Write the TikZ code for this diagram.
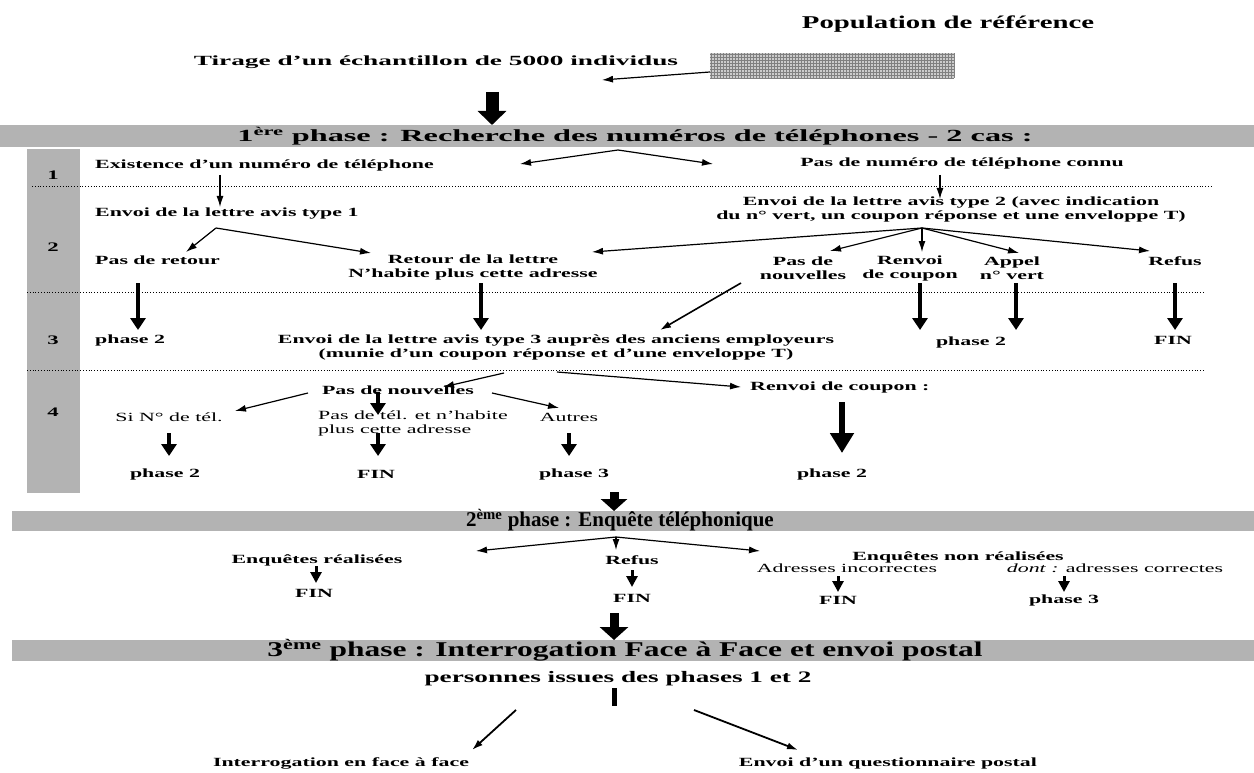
\documentclass[tikz,border=0pt]{standalone}
\usepackage{fontspec}
\setmainfont{Liberation Serif}
\newfontfamily\Wbody[FakeStretch=1.75]{Liberation Serif}
\newfontfamily\Wtitle[FakeStretch=1.95]{Liberation Serif}
\newfontfamily\Wpop[FakeStretch=1.6]{Liberation Serif}
\newfontfamily\Wpers[FakeStretch=1.7]{Liberation Serif}
\newfontfamily\Wbanda[FakeStretch=1.9]{Liberation Serif}
\newfontfamily\Wbandb[FakeStretch=1.0]{Liberation Serif}
\newfontfamily\Wbandc[FakeStretch=1.5]{Liberation Serif}
\usetikzlibrary{arrows.meta}
\definecolor{bandgray}{RGB}{179,179,179}
\begin{document}
\begin{tikzpicture}[x=1pt,y=-1pt,
  txt/.style={inner sep=0pt, font=\Wbody\bfseries\fontsize{12.5}{14}\selectfont},
  txtc/.style={txt, align=center},
  txtr/.style={inner sep=0pt, font=\Wbody\fontsize{12.5}{14}\selectfont},
  band/.style={fill=bandgray, draw=none},
  thinarr/.style={line width=1.2pt, -{Latex[length=11pt,width=7pt]}},
  thickarr/.style={line width=4pt, -{Triangle[length=12pt,width=15pt]}},
  midarr/.style={line width=3pt, -{Triangle[length=11pt,width=11pt]}},
  bigarr/.style={line width=13pt, -{Triangle[length=14pt,width=28pt]}},
  renarr/.style={line width=6pt, -{Triangle[length=20pt,width=23pt]}},
  sep/.style={dotted, line width=0.8pt}
]
\useasboundingbox (0,0) rectangle (1254,773);

% ---------- top ----------
\node[inner sep=0pt, font=\Wpop\bfseries\fontsize{18}{18}\selectfont] (pop) at (948,24) {Population de référence};
\node[inner sep=0pt, font=\Wtitle\bfseries\fontsize{14}{14}\selectfont] (tir) at (436,62) {Tirage d’un échantillon de 5000 individus};
\fill[gray!40] (710,53) rectangle (954,78);
\draw[step=3pt, gray, line width=0.8pt] (710,53) grid (954,78);
\coordinate (boxw) at (710,72);
\coordinate (boxa) at (602,80);
\draw[thinarr] (boxw) -- (boxa);
\coordinate (b0s) at (492,92);
\coordinate (b0e) at (492,125);
\draw[bigarr] (b0s) -- (b0e);

% ---------- phase 1 band ----------
\fill[band] (0,125) rectangle (1254,147);
\node[inner sep=0pt, font=\Wbanda\bfseries\fontsize{17}{17}\selectfont] (ph1) at (635,136) {1\textsuperscript{ère} phase : Recherche des numéros de téléphones - 2 cas :};

\fill[bandgray] (27,149) rectangle (80,493);
\draw[sep] (32,186) -- (1213,186);
\draw[sep] (27,292) -- (1205,292);
\draw[sep] (27,370) -- (1205,370);

\node[txt, font=\Wbody\bfseries\fontsize{13}{14}\selectfont] (n1) at (53,175) {1};
\node[txt, font=\Wbody\bfseries\fontsize{13}{14}\selectfont] (n2) at (53,247) {2};
\node[txt, font=\Wbody\bfseries\fontsize{13}{14}\selectfont] (n3) at (53,340) {3};
\node[txt, font=\Wbody\bfseries\fontsize{13}{14}\selectfont] (n4) at (53,412) {4};

% row 1
\node[txt, anchor=west] (exist) at (95,165) {Existence d’un numéro de téléphone};
\node[txt] (pasnum) at (962,163) {Pas de numéro de téléphone connu};
\coordinate (a1) at (618,150);
\coordinate (a1l) at (520,164);
\coordinate (a1r) at (713,164);
\draw[thinarr] (a1) -- (a1l);
\draw[thinarr] (a1) -- (a1r);
\coordinate (d1s) at (220,175); \coordinate (d1e) at (220,207);
\draw[thinarr] (d1s) -- (d1e);
\coordinate (d2s) at (940,175); \coordinate (d2e) at (940,199);
\draw[thinarr] (d2s) -- (d2e);

% row 2
\node[txt, anchor=west] (env1) at (95,214) {Envoi de la lettre avis type 1};
\node[txtc] (env2) at (951,209.5) {Envoi de la lettre avis type 2 (avec indication\\du n° vert, un coupon réponse et une enveloppe T)};
\coordinate (a2) at (216,228);
\coordinate (a2l) at (186,252);
\coordinate (a2r) at (371,253);
\draw[thinarr] (a2) -- (a2l);
\draw[thinarr] (a2) -- (a2r);
\node[txt, anchor=west] (pasret) at (95,260) {Pas de retour};
\node[txtc] (retour) at (473,267) {Retour de la lettre\\N’habite plus cette adresse};
\coordinate (a3) at (922,228);
\coordinate (a3a) at (592,252);
\coordinate (a3b) at (830,251);
\coordinate (a3c) at (922,252);
\coordinate (a3d) at (1019,253);
\coordinate (a3e) at (1150,251);
\foreach \t in {a3a,a3b,a3c,a3d,a3e} \draw[thinarr] (a3) -- (\t);
\node[txtc] (pasnv) at (803,268.5) {Pas de\\nouvelles};
\node[txtc] (renv) at (910,268.5) {Renvoi\\de coupon};
\node[txtc] (appel) at (1012,268.5) {Appel\\n° vert};
\node[txt] (refus) at (1175,261) {Refus};

% row 3
\foreach \x/\n in {138/r3a,481/r3b,920/r3c,1016/r3d,1175/r3e}{
  \coordinate (\n s) at (\x,283); \coordinate (\n e) at (\x,330);
  \draw[thickarr] (\n s) -- (\n e);
}
\coordinate (dgs) at (741,283); \coordinate (dge) at (660,330);
\draw[thinarr, line width=1.6pt] (dgs) -- (dge);
\node[txt, anchor=west] (ph2a) at (95,340) {phase 2};
\node[txtc] (env3) at (556,347) {Envoi de la lettre avis type 3 auprès des anciens employeurs\\(munie d’un coupon réponse et d’une enveloppe T)};
\node[txt] (ph2b) at (971,342) {phase 2};
\node[txt] (fin1) at (1173,340) {FIN};

% row 4
\coordinate (e3l) at (504,373); \coordinate (e3le) at (443,387);
\coordinate (e3r) at (557,372); \coordinate (e3re) at (741,387);
\draw[thinarr] (e3l) -- (e3le);
\draw[thinarr] (e3r) -- (e3re);
\node[txt] (pasnv2) at (398,390) {Pas de nouvelles};
\node[txt, anchor=west] (rencoup) at (750,387) {Renvoi de coupon :};
\coordinate (p4l) at (308,393); \coordinate (p4le) at (235,411);
\coordinate (p4m) at (378,392); \coordinate (p4me) at (378,415);
\coordinate (p4r) at (492,393); \coordinate (p4re) at (559,408);
\draw[thinarr] (p4l) -- (p4le);
\draw[thickarr] (p4m) -- (p4me);
\draw[thinarr] (p4r) -- (p4re);
\node[txtr] (sitel) at (169,417) {Si N° de tél.};
\node[txtr, anchor=north west, align=left] (pastel) at (318,411) {Pas de tél. et n’habite\\plus cette adresse};
\node[txtr] (autres) at (569,417) {Autres};
\foreach \x/\n in {169/q1,378/q2,569/q3}{
  \coordinate (\n s) at (\x,433); \coordinate (\n e) at (\x,456);
  \draw[thickarr] (\n s) -- (\n e);
}
\coordinate (rcs) at (842,402); \coordinate (rce) at (842,453);
\draw[renarr] (rcs) -- (rce);
\node[txt] (ph2c) at (165,474) {phase 2};
\node[txt] (fin2) at (376,474) {FIN};
\node[txt] (ph3a) at (574,474) {phase 3};
\node[txt] (ph2d) at (832,474) {phase 2};

% ---------- phase 2 ----------
\coordinate (b2s) at (614,492); \coordinate (b2e) at (614,511);
\draw[line width=9pt, -{Triangle[length=12pt,width=26pt]}] (b2s) -- (b2e);
\fill[band] (12,511) rectangle (1254,531);
\node[inner sep=0pt, font=\Wbandb\bfseries\fontsize{21}{21}\selectfont] (ph2) at (620,520) {2\textsuperscript{ème} phase : Enquête téléphonique};
\coordinate (a4) at (616,537);
\coordinate (a4l) at (476,551);
\coordinate (a4m) at (616,550);
\coordinate (a4r) at (760,551);
\draw[thinarr] (a4) -- (a4l);
\draw[thinarr] (a4) -- (a4m);
\draw[thinarr] (a4) -- (a4r);
\node[txt] (enqr) at (317,560) {Enquêtes réalisées};
\node[txt] (refus2) at (632,560) {Refus};
\node[txt] (enqnr) at (958,557) {Enquêtes non réalisées};
\node[txtr] (adrinc) at (847,568) {Adresses incorrectes};
\node[txtr] (adrcor) at (1115,568) {\textit{dont :} adresses correctes};
\foreach \x/\ys/\ye/\n in {316/566/583/m1,632/570/587/m2,838/576/592/m3,1064/576/592/m4}{
  \coordinate (\n s) at (\x,\ys); \coordinate (\n e) at (\x,\ye);
  \draw[midarr] (\n s) -- (\n e);
}
\node[txt] (fin3) at (314,593) {FIN};
\node[txt] (fin4) at (632,598) {FIN};
\node[txt] (fin5) at (838,600) {FIN};
\node[txt] (ph3b) at (1064,600) {phase 3};

% ---------- phase 3 ----------
\coordinate (b3s) at (614,613); \coordinate (b3e) at (614,640);
\draw[line width=9pt, -{Triangle[length=13pt,width=28pt]}] (b3s) -- (b3e);
\fill[band] (12,640) rectangle (1254,661);
\node[inner sep=0pt, font=\Wbandc\bfseries\fontsize{21}{21}\selectfont] (ph3) at (625,650) {3\textsuperscript{ème} phase : Interrogation Face à Face et envoi postal};
\node[inner sep=0pt, font=\Wpers\bfseries\fontsize{16}{16}\selectfont] (pers) at (618,679) {personnes issues des phases 1 et 2};
\coordinate (bars) at (614,688); \coordinate (bare) at (614,706);
\draw[line width=5pt] (bars) -- (bare);
\coordinate (f1s) at (516,710); \coordinate (f1e) at (472,750);
\coordinate (f2s) at (694,710); \coordinate (f2e) at (798,750);
\draw[thinarr, line width=1.8pt] (f1s) -- (f1e);
\draw[thinarr, line width=1.8pt] (f2s) -- (f2e);
\node[txt] (inter) at (341,763) {Interrogation en face à face};
\node[txt] (envq) at (888,763) {Envoi d’un questionnaire postal};
\end{tikzpicture}
\end{document}
